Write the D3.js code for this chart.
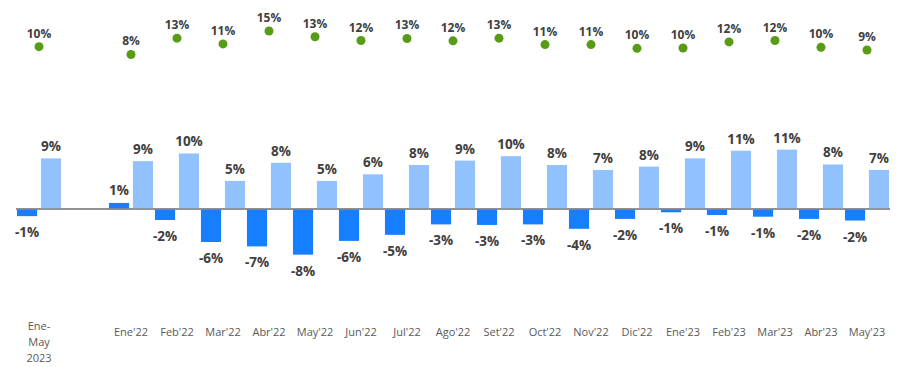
<!DOCTYPE html>
<html>
<head>
<meta charset="utf-8">
<script src="https://cdn.jsdelivr.net/npm/d3@7"></script>
<style>
  html, body { margin: 0; padding: 0; background: #fff; }
  svg { display: block; }
</style>
</head>
<body>
<svg id="chart" width="907" height="367"></svg>
<script>
// ---- data ----
const categories = ["Ene-May 2023", " ", "Ene'22", "Feb'22", "Mar'22", "Abr'22", "May'22", "Jun'22", "Jul'22", "Ago'22", "Set'22", "Oct'22", "Nov'22", "Dic'22", "Ene'23", "Feb'23", "Mar'23", "Abr'23", "May'23"];
const tickLabels = [["Ene-", "May", "2023"], [""], ["Ene'22"], ["Feb'22"], ["Mar'22"], ["Abr'22"], ["May'22"], ["Jun'22"], ["Jul'22"], ["Ago'22"], ["Set'22"], ["Oct'22"], ["Nov'22"], ["Dic'22"], ["Ene'23"], ["Feb'23"], ["Mar'23"], ["Abr'23"], ["May'23"]];
const darkSeries  = [-1.3, null, 1.1, -2.0, -6.0, -6.8, -8.3, -5.8, -4.7, -2.8, -2.9, -2.8, -3.6, -1.8, -0.6, -1.1, -1.4, -1.8, -2.1];
const lightSeries = [9.2, null, 8.7, 10.1, 5.1, 8.4, 5.1, 6.3, 8.0, 8.8, 9.6, 8.0, 7.1, 7.7, 9.2, 10.6, 10.8, 8.1, 7.1];
const dotSeries   = [10.4, null, 8.1, 12.9, 11.2, 15.0, 13.3, 12.2, 12.8, 12.1, 12.9, 11.0, 11.0, 9.9, 10.0, 11.8, 12.2, 10.2, 9.4];

// ---- scales ----
const svg = d3.select("#chart");
const x0 = d3.scaleBand().domain(categories).range([16, 890]).paddingInner(0).paddingOuter(0);
const x1 = d3.scaleBand().domain(["dark", "light"]).range([0, x0.bandwidth()]).paddingInner(0.16).paddingOuter(0.04);
const y = d3.scaleLinear().domain([-10, 10]).range([264, 154]);
const y2 = d3.scaleLinear().domain([0, 20]).range([82, 14]);

const fmt = v => Math.round(v) + "%";
const labelFont = "'Open Sans', 'Noto Sans', sans-serif";

const rows = categories.map((c, i) => ({ c, i, dark: darkSeries[i], light: lightSeries[i], dot: dotSeries[i] }));

// baseline
svg.append("line")
  .attr("x1", x0.range()[0]).attr("x2", x0.range()[1])
  .attr("y1", y(0)).attr("y2", y(0))
  .attr("stroke", "#8a8a8a").attr("stroke-width", 1.5);

// bars
const g = svg.append("g");
const dark = rows.filter(d => d.dark != null);
const light = rows.filter(d => d.light != null);

g.selectAll("rect.dark").data(dark).join("rect")
  .attr("class", "dark")
  .attr("x", d => x0(d.c) + x1("dark"))
  .attr("width", x1.bandwidth())
  .attr("y", d => Math.min(y(d.dark), y(0)))
  .attr("height", d => Math.abs(y(d.dark) - y(0)))
  .attr("fill", "#167fff");

g.selectAll("rect.light").data(light).join("rect")
  .attr("class", "light")
  .attr("x", d => x0(d.c) + x1("light"))
  .attr("width", x1.bandwidth())
  .attr("y", d => Math.min(y(d.light), y(0)))
  .attr("height", d => Math.abs(y(d.light) - y(0)))
  .attr("fill", "#91c2fe");

// redraw baseline on top
svg.append("line")
  .attr("x1", x0.range()[0]).attr("x2", x0.range()[1])
  .attr("y1", y(0)).attr("y2", y(0))
  .attr("stroke", "#8a8a8a").attr("stroke-width", 1.5);

// bar labels
g.selectAll("text.dl").data(dark).join("text")
  .attr("class", "dl")
  .attr("x", d => x0(d.c) + x1("dark") + x1.bandwidth() / 2)
  .attr("y", d => d.dark >= 0 ? y(d.dark) - 8 : y(d.dark) + 21)
  .attr("text-anchor", "middle")
  .attr("font-family", labelFont).attr("font-weight", "bold").attr("font-size", 13.5)
  .attr("fill", "#404040")
  .text(d => fmt(d.dark));

g.selectAll("text.ll").data(light).join("text")
  .attr("class", "ll")
  .attr("x", d => x0(d.c) + x1("light") + x1.bandwidth() / 2)
  .attr("y", d => y(d.light) - 7)
  .attr("text-anchor", "middle")
  .attr("font-family", labelFont).attr("font-weight", "bold").attr("font-size", 13.5)
  .attr("fill", "#404040")
  .text(d => fmt(d.light));

// dots
const dots = rows.filter(d => d.dot != null);
g.selectAll("circle.dot").data(dots).join("circle")
  .attr("class", "dot")
  .attr("cx", d => x0(d.c) + x0.bandwidth() / 2)
  .attr("cy", d => y2(d.dot))
  .attr("r", 4.5)
  .attr("fill", "#589c16");

g.selectAll("text.dotl").data(dots).join("text")
  .attr("class", "dotl")
  .attr("x", d => x0(d.c) + x0.bandwidth() / 2)
  .attr("y", d => y2(d.dot) - 9)
  .attr("text-anchor", "middle")
  .attr("font-family", labelFont).attr("font-weight", "bold").attr("font-size", 12)
  .attr("fill", "#404040")
  .text(d => fmt(d.dot));

// x axis
const axis = svg.append("g")
  .attr("transform", "translate(0,320)")
  .call(d3.axisBottom(x0).tickSize(0).tickSizeOuter(0));
axis.select(".domain").remove();
axis.selectAll(".tick text").each(function(c) {
  const t = d3.select(this);
  const lines = tickLabels[categories.indexOf(c)];
  t.text(null)
    .attr("y", 0).attr("dy", null)
    .attr("font-family", labelFont).attr("font-size", 11)
    .attr("fill", "#595959");
  if (lines.length === 1) {
    t.append("tspan").attr("x", 0).attr("y", 16).text(lines[0]);
  } else {
    lines.forEach((l, k) => t.append("tspan").attr("x", 0).attr("y", 10 + k * 16.2).text(l));
  }
});
</script>
</body>
</html>
